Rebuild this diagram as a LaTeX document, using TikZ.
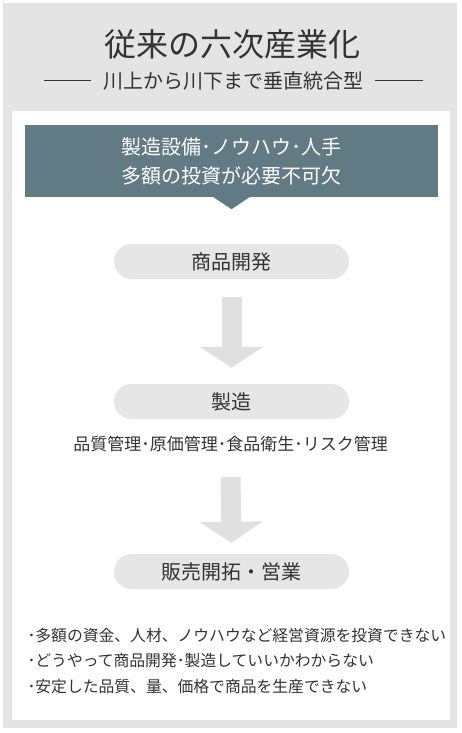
\documentclass[tikz,border=0pt]{standalone}
\usepackage{fontspec}
\setmainfont{Noto Sans CJK JP}
\usetikzlibrary{arrows.meta,calc,positioning}

\definecolor{panelgray}{HTML}{E4E4E4}
\definecolor{pillgray}{HTML}{E6E6E6}
\definecolor{arrowgray}{HTML}{E0E0E0}
\definecolor{slate}{HTML}{627A84}
\definecolor{ink}{HTML}{333333}

\tikzset{
  pill/.style={fill=pillgray,rounded corners=17.5pt,minimum width=235pt,minimum height=35pt,inner sep=0pt,text=ink,font=\fontsize{20}{24}\selectfont},
  flow/.style={arrowgray,line width=20pt,-{Triangle[width=62pt,length=21pt]}},
  rule/.style={ink,line width=0.8pt},
}

\begin{document}
\begin{tikzpicture}[x=1pt,y=-1pt]
            \useasboundingbox (0,0) rectangle (461,733);
            \fill[panelgray] (3,3) rectangle (457,728);
            \fill[white] (12,111) rectangle (450,720);
            % heading
            \node[text=ink,font=\fontsize{32}{36}\selectfont] (title) at (232,44) {従来の六次産業化};
            \node[text=ink,font=\fontsize{20}{24}\selectfont] (subtitle) at (233,81) {川上から川下まで垂直統合型};
            \draw[rule] (44,80) -- (91,80);
            \draw[rule] (375,80) -- (423,80);
            % investment box
            \node[fill=slate,text=white,minimum width=413pt,minimum height=72pt,align=center,
                  font=\fontsize{20}{29}\selectfont] (need) at (231.5,161) {製造設備･ノウハウ･人手\\多額の投資が必要不可欠};
            \fill[slate] ($(need.south)+(-18,0)$) -- ($(need.south)+(18,0)$) -- ($(need.south)+(0,12)$) -- cycle;
            % flow
            \node[pill] (dev) at (231.5,261.5) {商品開発};
            \node[pill] (mfg) at (231.5,401.5) {製造};
            \node[text=ink,font=\fontsize{17}{20}\selectfont] (mfgnote) at (230.5,444.5) {品質管理･原価管理･食品衛生･リスク管理};
            \node[pill] (sales) at (231.5,571.5) {販売開拓・営業};
            \draw[flow] ($(dev.south)+(0,18)$) -- ($(mfg.north)+(0,-16)$);
            \draw[flow] ($(mfgnote.south)+(0,21)$) -- ($(sales.north)+(0,-11)$);
            % issues
            \node[anchor=west,align=left,text=ink,font=\fontsize{15.8}{25.5}\selectfont] (issues) at (24,661)
                {･多額の資金、人材、ノウハウなど経営資源を投資できない\\･どうやって商品開発･製造していいかわからない\\･安定した品質、量、価格で商品を生産できない};
        \end{tikzpicture}
\end{document}
